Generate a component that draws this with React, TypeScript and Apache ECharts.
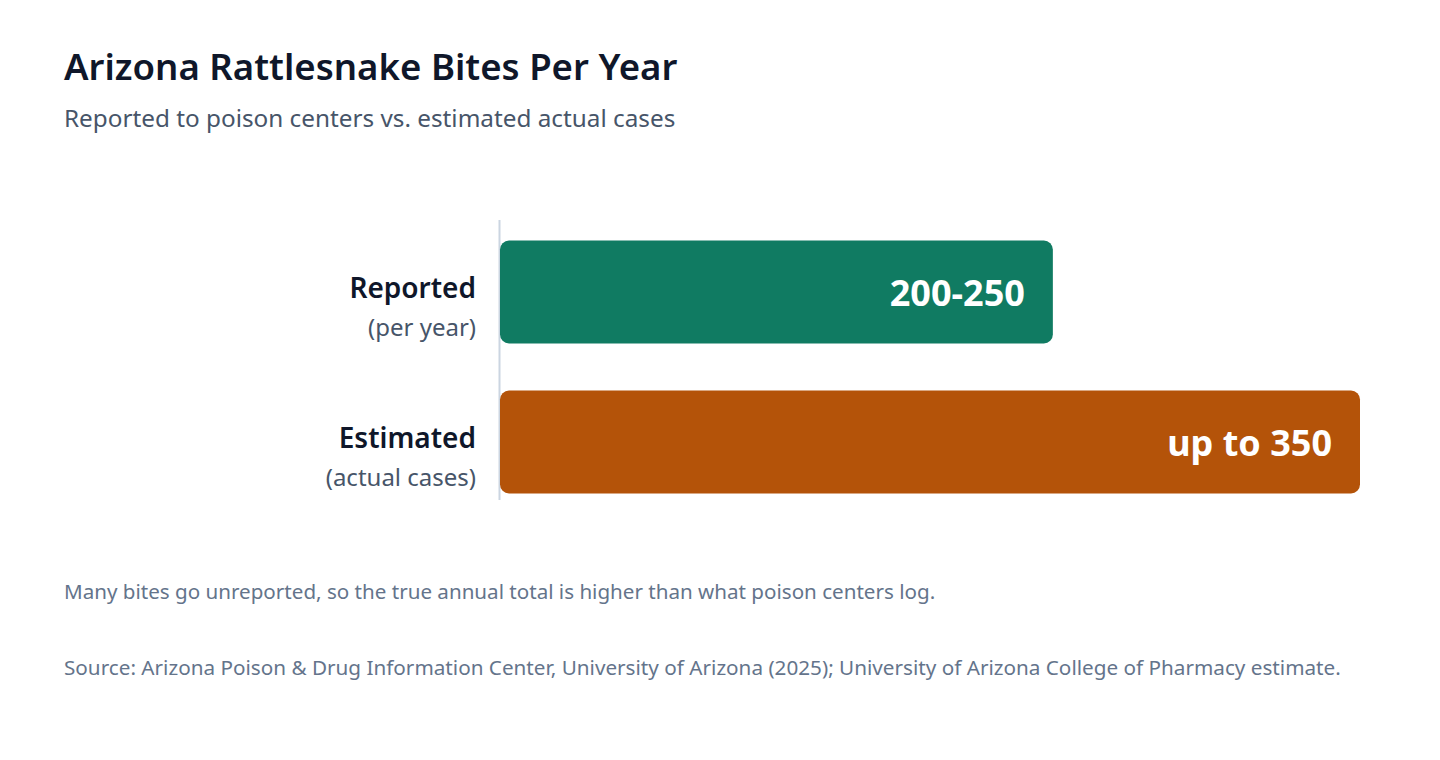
import React, { useEffect, useRef } from "react";
import * as echarts from "echarts";

const categories = ["Reported", "Estimated"];
const subLabels = ["(per year)", "(actual cases)"];
const values = [225, 350];
const valueLabels = ["200-250", "up to 350"];
const barColors = ["#107b62", "#b45309"];

const FONT = "'Segoe UI', 'Noto Sans', 'Open Sans', sans-serif";

export default function App() {
  const ref = useRef<HTMLDivElement>(null);

  useEffect(() => {
    if (!ref.current) return;
    const chart = echarts.init(ref.current, undefined, { renderer: "svg" });
    chart.setOption({
      animation: false,
      backgroundColor: "#ffffff",
      textStyle: { fontFamily: FONT },
      grid: { left: 500, right: 80, top: 217, bottom: 243 },
      xAxis: {
        type: "value",
        min: 0,
        max: 350,
        show: false,
      },
      yAxis: {
        type: "category",
        inverse: true,
        data: categories,
        axisLine: { show: false },
        axisTick: { show: false },
        axisLabel: {
          margin: 24,
          align: "right",
          padding: [29, 0, 0, 0],
          formatter: (v: string, i: number) => `{a|${v}}\n{b|${subLabels[i]}}`,
          rich: {
            a: { fontFamily: FONT, fontSize: 28, fontWeight: 600, color: "#0f172a", lineHeight: 39, align: "right" },
            b: { fontFamily: FONT, fontSize: 24, color: "#475569", lineHeight: 39, align: "right" },
          },
        },
      },
      series: [
        {
          type: "bar",
          barWidth: 103,
          data: values.map((v, i) => ({
            value: v,
            itemStyle: { color: barColors[i], borderRadius: 9 },
          })),
          label: {
            show: true,
            position: "insideRight",
            distance: 28,
            formatter: (p: any) => valueLabels[p.dataIndex],
            color: "#ffffff",
            fontFamily: FONT,
            fontSize: 36,
            fontWeight: 700,
          },
        },
      ],
      graphic: [
        {
          type: "line",
          shape: { x1: 499.5, y1: 220, x2: 499.5, y2: 500 },
          style: { stroke: "#cbd5e1", lineWidth: 2 },
        },
        {
          type: "text",
          left: 64,
          top: 47,
          style: { text: "Arizona Rattlesnake Bites Per Year", fontFamily: FONT, fontSize: 36.6, fontWeight: 600, fill: "#0f172a" },
        },
        {
          type: "text",
          left: 64,
          top: 105,
          style: { text: "Reported to poison centers vs. estimated actual cases", fontFamily: FONT, fontSize: 24.3, fill: "#475569" },
        },
        {
          type: "text",
          left: 64,
          top: 580,
          style: { text: "Many bites go unreported, so the true annual total is higher than what poison centers log.", fontFamily: FONT, fontSize: 20.6, fill: "#64748b" },
        },
        {
          type: "text",
          left: 64,
          top: 656,
          style: { text: "Source: Arizona Poison & Drug Information Center, University of Arizona (2025); University of Arizona College of Pharmacy estimate.", fontFamily: FONT, fontSize: 20.7, fill: "#64748b" },
        },
      ],
    });
    return () => chart.dispose();
  }, []);

  return <div ref={ref} style={{ position: "fixed", left: 0, top: 0, width: 1440, height: 760 }} />;
}
